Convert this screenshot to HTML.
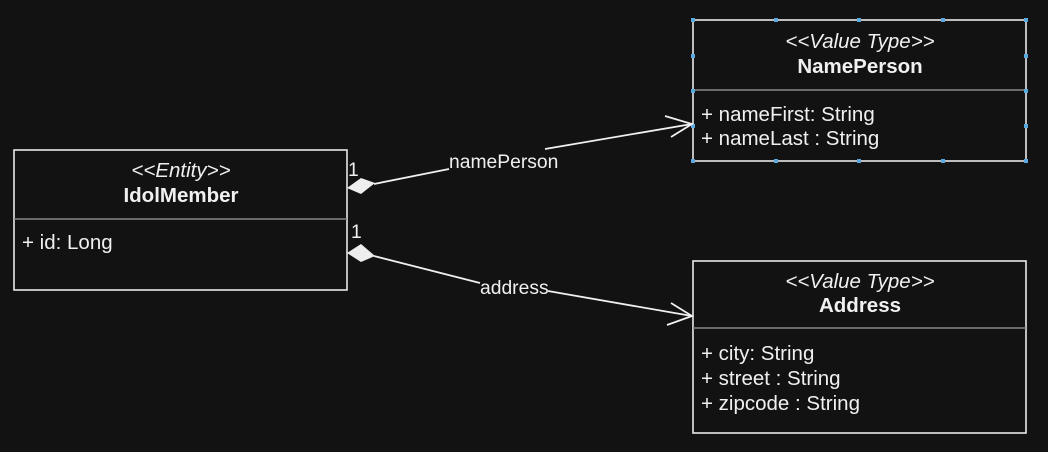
<!DOCTYPE html>
<html><head><style>
html,body{margin:0;padding:0;background:#121212;}
svg text{font-family:"Liberation Sans",sans-serif;fill:#f0f0f0;}
</style></head><body>
<svg width="1048" height="447" viewBox="0 0 1048 447" xmlns="http://www.w3.org/2000/svg">
<rect width="1048" height="447" fill="#121212"/>
<g fill="none" stroke="#e8e8e8" stroke-width="1.6">
<rect x="14" y="150" width="333" height="140"/>
<line x1="14" y1="219" x2="347" y2="219" stroke="#888"/>
<rect x="693" y="20" width="333" height="141"/>
<line x1="693" y1="90" x2="1026" y2="90" stroke="#888"/>
<rect x="693" y="261" width="333" height="172"/>
<line x1="693" y1="328" x2="1026" y2="328" stroke="#888"/>
</g>
<g fill="#5aa8e0">
<rect x="691" y="18" width="4" height="4"/><rect x="774" y="18" width="4" height="4"/><rect x="857" y="18" width="4" height="4"/><rect x="941" y="18" width="4" height="4"/><rect x="1024" y="18" width="4" height="4"/>
<rect x="691" y="159" width="4" height="4"/><rect x="774" y="159" width="4" height="4"/><rect x="857" y="159" width="4" height="4"/><rect x="941" y="159" width="4" height="4"/><rect x="1024" y="159" width="4" height="4"/>
<rect x="691" y="54" width="4" height="4"/><rect x="691" y="89" width="4" height="4"/><rect x="691" y="124" width="4" height="4"/>
<rect x="1024" y="54" width="4" height="4"/><rect x="1024" y="89" width="4" height="4"/><rect x="1024" y="124" width="4" height="4"/>
</g>
<g stroke="#f0f0f0" stroke-width="1.8" fill="none">
<polyline points="374,184 449,169"/>
<polyline points="545,149 692,124"/>
<polyline points="665,116 692,124 671,137"/>
<polyline points="374,256 480,283"/>
<polyline points="548,291 692,316"/>
<polyline points="671,303 692,316 667,325"/>
</g>
<polygon points="347,188 361,178 375,183 361,194" fill="#eeeeee"/>
<polygon points="347,253 361,244 375,256 361,262" fill="#eeeeee"/>
<g font-size="19.3">
<text x="449" y="168">namePerson</text>
<text x="480" y="294">address</text>
<text x="348" y="176">1</text>
<text x="351" y="238">1</text>
</g>
<g font-size="20.5" text-anchor="middle">
<text x="181" y="177" font-style="italic">&lt;&lt;Entity&gt;&gt;</text>
<text x="181" y="202" font-weight="bold">IdolMember</text>
<text x="860" y="48" font-style="italic">&lt;&lt;Value Type&gt;&gt;</text>
<text x="860" y="73" font-weight="bold">NamePerson</text>
<text x="860" y="288" font-style="italic">&lt;&lt;Value Type&gt;&gt;</text>
<text x="860" y="312" font-weight="bold">Address</text>
</g>
<g font-size="20.5">
<text x="701" y="121">+ nameFirst: String</text>
<text x="701" y="145">+ nameLast : String</text>
<text x="22" y="249">+ id: Long</text>
<text x="701" y="360">+ city: String</text>
<text x="701" y="385">+ street : String</text>
<text x="701" y="410">+ zipcode : String</text>
</g>
</svg>
</body></html>
